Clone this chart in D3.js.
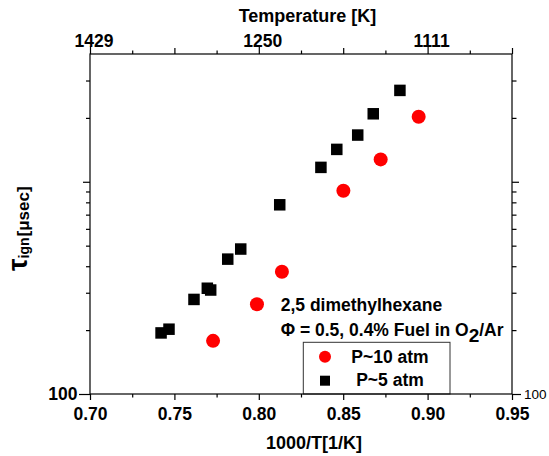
<!DOCTYPE html>
<html><head><meta charset="utf-8">
<script src="https://cdn.jsdelivr.net/npm/d3@7"></script>
<style>
body{margin:0;background:#fff}
svg{display:block}
text{font-family:"Liberation Sans",Arial,Helvetica,sans-serif}
</style>
</head><body>
<svg id="c" width="549" height="456"></svg>
<script>
// ---- data ----
const invT5  = [0.7421, 0.7468, 0.7616, 0.7695, 0.7715, 0.7816, 0.7893, 0.8124, 0.8368, 0.8462, 0.8586, 0.8678, 0.8836];
const tau5   = [194, 202, 279, 315, 309, 432, 482, 779, 1169, 1421, 1660, 2091, 2695];
const invT10 = [0.7729, 0.7989, 0.8137, 0.8501, 0.8722, 0.8947];
const tau10  = [178, 265, 377, 907, 1275, 2024];
const xMajorTicks = [0.70, 0.75, 0.80, 0.85, 0.90, 0.95];
const xMinorTicks = [0.725, 0.775, 0.825, 0.875, 0.925];
const topLabelTicks = [0.70, 0.80, 0.90];
const topLabels = ["1429", "1250", "1111"];
const yLabelTicks = [100];
const yMidTicks = [1000];
const yMinorTicks = [200, 300, 400, 500, 600, 700, 800, 900, 2000, 3000];
const seriesNames = ["P~10 atm", "P~5 atm"];
const note1 = "2,5 dimethylhexane";
const note2a = "\u03A6 = 0.5, 0.4% Fuel in O";
const note2b = "2";
const note2c = "/Ar";

// ---- layout ----
const L = 90, R = 512, T = 54, B = 394;
const svg = d3.select("#c");
const x = d3.scaleLinear().domain([0.70, 0.95]).range([L, R]);
const y = d3.scaleLog().domain([100, 4000]).range([B, T]);

// legend box (behind everything)
svg.append("rect").attr("x", 303.3).attr("y", 342.3).attr("width", 146.7).attr("height", B - 342.3)
  .attr("fill", "#fff").attr("stroke", "#333").attr("stroke-width", 1);

function styleAxis(g, fs, fw) {
  g.select(".domain").remove();
  g.selectAll("line").attr("stroke", "#000").attr("stroke-width", 1.2);
  g.selectAll("text").attr("font-family", '"Liberation Sans",Arial,sans-serif')
    .attr("font-size", fs).attr("font-weight", fw).attr("fill", "#000");
  g.attr("font-family", null).attr("font-size", null);
}

// bottom axis
svg.append("g").attr("transform", `translate(0,${B})`)
  .call(d3.axisBottom(x).tickValues(xMajorTicks).tickSize(6).tickPadding(8).tickFormat(d3.format(".2f")))
  .call(g => styleAxis(g, 17.5, "bold"));
svg.append("g").attr("transform", `translate(0,${B})`)
  .call(d3.axisBottom(x).tickValues(xMinorTicks).tickSize(3.5).tickFormat(""))
  .call(g => styleAxis(g, 17.5, "bold"));

// top axis
svg.append("g").attr("transform", `translate(0,${T})`)
  .call(d3.axisTop(x).tickValues(topLabelTicks).tickSize(8).tickPadding(-1)
    .tickFormat((d, i) => topLabels[i]))
  .call(g => styleAxis(g, 17.5, "bold"))
  .call(g => g.selectAll("text").attr("dx", 3.5));
svg.append("g").attr("transform", `translate(0,${T})`)
  .call(d3.axisTop(x).tickValues([0.75, 0.85, 0.95]).tickSize(6).tickFormat(""))
  .call(g => styleAxis(g, 17.5, "bold"));
svg.append("g").attr("transform", `translate(0,${T})`)
  .call(d3.axisTop(x).tickValues(xMinorTicks).tickSize(3.5).tickFormat(""))
  .call(g => styleAxis(g, 17.5, "bold"));

// left axis
svg.append("g").attr("transform", `translate(${L},0)`)
  .call(d3.axisLeft(y).tickValues(yLabelTicks).tickSize(11).tickPadding(1.5).tickFormat(d3.format("d")))
  .call(g => styleAxis(g, 17.5, "bold"));
svg.append("g").attr("transform", `translate(${L},0)`)
  .call(d3.axisLeft(y).tickValues(yMidTicks).tickSize(7).tickFormat(""))
  .call(g => styleAxis(g, 17.5, "bold"));
svg.append("g").attr("transform", `translate(${L},0)`)
  .call(d3.axisLeft(y).tickValues(yMinorTicks).tickSize(4).tickFormat(""))
  .call(g => styleAxis(g, 17.5, "bold"));

// right axis
svg.append("g").attr("transform", `translate(${R},0)`)
  .call(d3.axisRight(y).tickValues(yLabelTicks).tickSize(9).tickPadding(3).tickFormat(d3.format("d")))
  .call(g => styleAxis(g, 13.5, "normal"));
svg.append("g").attr("transform", `translate(${R},0)`)
  .call(d3.axisRight(y).tickValues(yMidTicks).tickSize(7).tickFormat(""))
  .call(g => styleAxis(g, 13.5, "normal"));
svg.append("g").attr("transform", `translate(${R},0)`)
  .call(d3.axisRight(y).tickValues(yMinorTicks).tickSize(4.5).tickFormat(""))
  .call(g => styleAxis(g, 13.5, "normal"));

// frame
svg.append("rect").attr("x", L).attr("y", T).attr("width", R - L).attr("height", B - T)
  .attr("fill", "none").attr("stroke", "#000").attr("stroke-width", 1.2);

// axis titles
svg.append("text").attr("x", 307.5).attr("y", 21.7).attr("text-anchor", "middle")
  .attr("font-size", 18).attr("font-weight", "bold").text("Temperature [K]");
svg.append("text").attr("x", 314).attr("y", 449.3).attr("text-anchor", "middle")
  .attr("font-size", 18).attr("font-weight", "bold").text("1000/T[1/K]");

const yl = svg.append("text").attr("transform", "translate(27,271) rotate(-90)")
  .attr("font-weight", "bold");
yl.append("tspan").attr("font-size", 28).text("\u03C4");
yl.append("tspan").attr("font-size", 14).attr("dy", 2).text("ign");
yl.append("tspan").attr("font-size", 17).attr("dx", 1).text("[\u03BCsec]");

// data: P~5 atm squares
const sq = 11.5;
svg.append("g").selectAll("rect").data(invT5.map((v, i) => [v, tau5[i]])).join("rect")
  .attr("x", d => x(d[0]) - sq / 2).attr("y", d => y(d[1]) - sq / 2)
  .attr("width", sq).attr("height", sq).attr("fill", "#000");
// data: P~10 atm circles
svg.append("g").selectAll("circle").data(invT10.map((v, i) => [v, tau10[i]])).join("circle")
  .attr("cx", d => x(d[0])).attr("cy", d => y(d[1])).attr("r", 7).attr("fill", "#ff0000");

// annotation
svg.append("text").attr("x", 280.7).attr("y", 310.7).attr("font-size", 17.5).attr("font-weight", "bold").text(note1);
const n2 = svg.append("text").attr("x", 280.7).attr("y", 335.7).attr("font-size", 17.5).attr("font-weight", "bold");
n2.append("tspan").text(note2a);
n2.append("tspan").attr("dy", 6).attr("font-size", 19).text(note2b);
n2.append("tspan").attr("dy", -6).text(note2c);

// legend
svg.append("circle").attr("cx", 325).attr("cy", 356.7).attr("r", 6).attr("fill", "#ff0000");
svg.append("rect").attr("x", 325 - 5).attr("y", 380.7 - 5).attr("width", 10).attr("height", 10).attr("fill", "#000");
svg.append("text").attr("x", 390).attr("y", 362.7).attr("text-anchor", "middle")
  .attr("font-size", 17.5).attr("font-weight", "bold").text(seriesNames[0]);
svg.append("text").attr("x", 390).attr("y", 386).attr("text-anchor", "middle")
  .attr("font-size", 17.5).attr("font-weight", "bold").text(seriesNames[1]);
</script>
</body></html>
